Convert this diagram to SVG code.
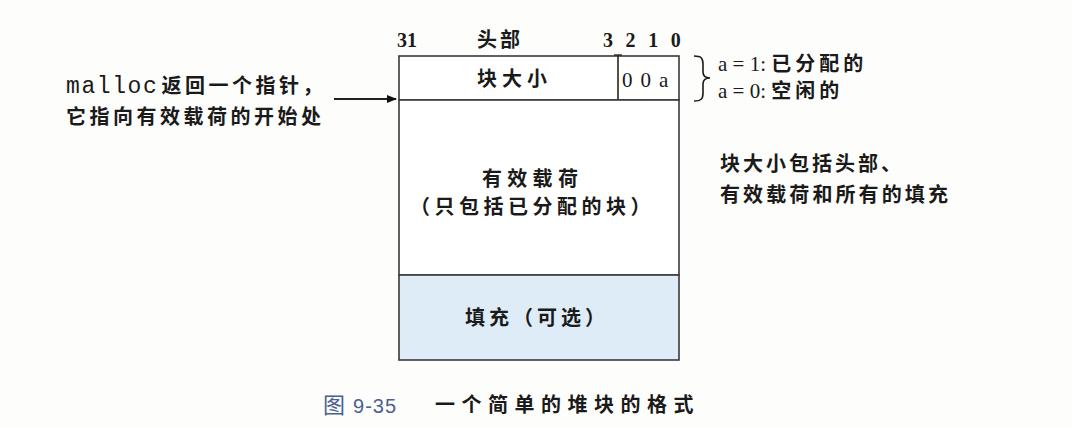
<svg xmlns="http://www.w3.org/2000/svg" width="1072" height="428" viewBox="0 0 1072 428">
  <style>
    .cjk { font-family: "Noto Sans CJK SC", sans-serif; fill: #1a1a1a; font-weight: bold; font-size: 20px; }
    .ser { font-family: "Liberation Serif", "Noto Sans CJK SC", serif; fill: #1a1a1a; }
    .mono { font-family: "Liberation Mono", monospace; fill: #1a1a1a; }
    .edge { stroke: #3a3a3a; stroke-width: 1.6; }
    .white { fill: #ffffff; }
    .blue { fill: #deecf7; }
    .cap { font-family: "Noto Sans CJK SC", sans-serif; fill: #4a5f93; }
  </style>
  <defs>
    <marker id="arrowhead" markerWidth="10" markerHeight="10" refX="9" refY="5" orient="auto" markerUnits="userSpaceOnUse">
      <path d="M0,1 L10,5 L0,9 Z" fill="#111"/>
    </marker>
  </defs>

  <rect width="1072" height="428" fill="#fdfdfb"/>

  <!-- bit positions above the header word -->
  <g id="bit-labels">
    <text class="ser" x="397" y="47" font-size="20" font-weight="bold">31</text>
    <text class="cjk" x="477" y="47" letter-spacing="3">头部</text>
    <text class="ser" x="603" y="47" font-size="20" font-weight="bold" letter-spacing="3.8">3 2 1 0</text>
  </g>

  <!-- header word: block size + flag bits -->
  <g id="header">
    <rect x="399" y="56" width="280" height="44" class="white edge"/>
    <text class="cjk" x="477" y="86" letter-spacing="5">块大小</text>
    <line x1="618" y1="55" x2="618" y2="101" stroke="#2e2418" stroke-width="1.6"/>
    <line x1="614" y1="55" x2="622" y2="55" stroke="#2e2418" stroke-width="1.4"/>
    <line x1="614" y1="101" x2="622" y2="101" stroke="#2e2418" stroke-width="1.4"/>
    <text class="ser" x="622" y="87" font-size="21" letter-spacing="1.4">0 0 a</text>
  </g>

  <!-- payload region -->
  <g id="payload">
    <rect x="399" y="100" width="280" height="175" class="white edge"/>
    <text class="cjk" x="482" y="186" letter-spacing="5.3">有效载荷</text>
    <text class="cjk" x="410" y="214" letter-spacing="4.5">（只包括已分配的块）</text>
  </g>

  <!-- optional padding -->
  <g id="padding">
    <rect x="399" y="275" width="280" height="85" class="blue edge"/>
    <text class="cjk" x="465" y="325" letter-spacing="4">填充（可选）</text>
  </g>

  <!-- flag legend -->
  <g id="flag-legend">
    <path d="M694,56 C701,56 703,58 703,64 L703,72 C703,76 705,78 710,78 C705,78 703,80 703,84 L703,93 C703,99 701,101 694,101" fill="none" stroke="#1a1a1a" stroke-width="1.6"/>
    <text class="ser" x="718" y="71" font-size="21">a = 1: <tspan class="cjk" font-size="19" letter-spacing="4">已分配的</tspan></text>
    <text class="ser" x="718" y="98" font-size="21">a = 0: <tspan class="cjk" font-size="19" letter-spacing="4">空闲的</tspan></text>
  </g>

  <!-- note on what the size covers -->
  <g id="size-note">
    <text class="cjk" x="720" y="171" letter-spacing="3">块大小包括头部、</text>
    <text class="cjk" x="720" y="202" letter-spacing="3.1">有效载荷和所有的填充</text>
  </g>

  <!-- pointer returned by malloc -->
  <g id="malloc-note">
    <text x="66" y="93"><tspan class="mono" font-size="23" letter-spacing="1.6">malloc</tspan><tspan class="cjk" dx="3" letter-spacing="3.5">返回一个指针，</tspan></text>
    <text class="cjk" x="66" y="124" letter-spacing="3.5">它指向有效载荷的开始处</text>
  </g>

  <g id="connectors">
    <line x1="334" y1="99" x2="396" y2="99" stroke="#222" stroke-width="2" marker-end="url(#arrowhead)"/>
  </g>

  <!-- caption -->
  <g id="caption">
    <text class="cap" x="323" y="413" font-size="22">图<tspan font-family="Liberation Sans, sans-serif" font-size="20" dx="8" letter-spacing="1">9-35</tspan></text>
    <text class="cjk" x="435" y="412" letter-spacing="6.5">一个简单的堆块的格式</text>
  </g>
</svg>
